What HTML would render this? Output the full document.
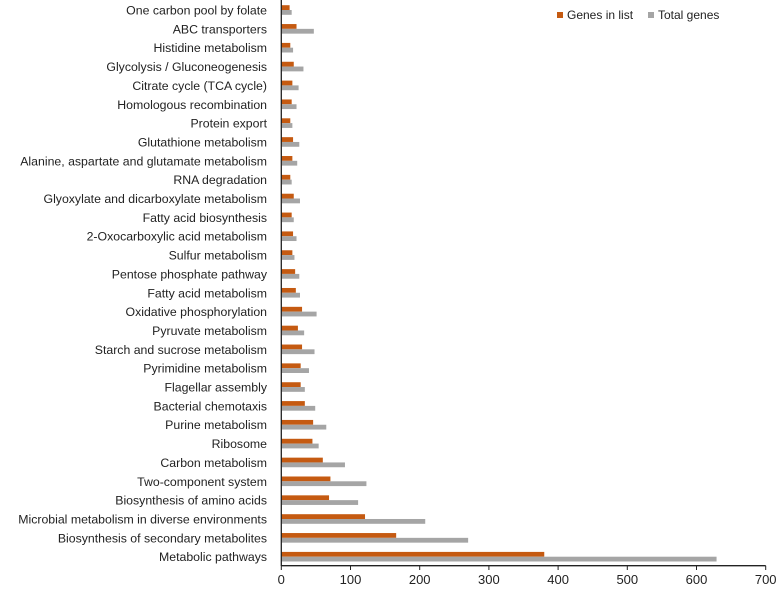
<!DOCTYPE html>
<html><head><meta charset="utf-8"><style>
body{margin:0;background:#fff}
svg{display:block;font-family:"Liberation Sans",sans-serif}
</style></head><body>
<svg id="chart" width="777" height="590" viewBox="0 0 777 590" xmlns="http://www.w3.org/2000/svg"></svg>
<script>
const categories=["One carbon pool by folate","ABC transporters","Histidine metabolism","Glycolysis / Gluconeogenesis","Citrate cycle (TCA cycle)","Homologous recombination","Protein export","Glutathione metabolism","Alanine, aspartate and glutamate metabolism","RNA degradation","Glyoxylate and dicarboxylate metabolism","Fatty acid biosynthesis","2-Oxocarboxylic acid metabolism","Sulfur metabolism","Pentose phosphate pathway","Fatty acid metabolism","Oxidative phosphorylation","Pyruvate metabolism","Starch and sucrose metabolism","Pyrimidine metabolism","Flagellar assembly","Bacterial chemotaxis","Purine metabolism","Ribosome","Carbon metabolism","Two-component system","Biosynthesis of amino acids","Microbial metabolism in diverse environments","Biosynthesis of secondary metabolites","Metabolic pathways"];
const genesInList=[12,22,13,18,16,15,13,17,16,13,18,15,17,16,20,21,30,24,30,28,28,34,46,45,60,71,69,121,166,380];
const totalGenes=[15,47,17,32,25,22,16,26,23,15,27,18,22,19,26,27,51,33,48,40,34,49,65,54,92,123,111,208,270,629];
const xTicks=[0,100,200,300,400,500,600,700];
const NS="http://www.w3.org/2000/svg";
const svg=document.getElementById('chart');
const x0=281.3,x1=765.7,xmax=700;
const xs=v=>x0+(v/xmax)*(x1-x0);
const yTop=10,yBot=556.7;
const n=categories.length;
const yc=i=>yTop+i*(yBot-yTop)/(n-1);
const bh=4.8;
function mk(t,a){const e=document.createElementNS(NS,t);for(const k in a)e.setAttribute(k,a[k]);svg.appendChild(e);return e;}
categories.forEach((c,i)=>{
  const y=yc(i);
  const t=mk('text',{x:267,y:y+4.5,'text-anchor':'end','font-size':'12.3',fill:'#222'});
  t.textContent=c;
  
  
  const r1=mk('rect',{x:x0,y:y-bh,width:xs(genesInList[i])-x0,height:bh,fill:'#C55A11'});
  
  
  const r2=mk('rect',{x:x0,y:y,width:xs(totalGenes[i])-x0,height:bh,fill:'#A5A5A5'});
  
  
});
const ya=mk('line',{x1:x0,y1:0,x2:x0,y2:566,stroke:'#222','stroke-width':1.3});


const xa=mk('line',{x1:x0,y1:565.7,x2:x1,y2:565.7,stroke:'#222','stroke-width':1.3});


xTicks.forEach(v=>{
  const tk=mk('line',{x1:xs(v),y1:565.7,x2:xs(v),y2:570,stroke:'#222','stroke-width':1});
  
  
  const tl=mk('text',{x:xs(v),y:584,'text-anchor':'middle','font-size':'13',fill:'#222'});
  tl.textContent=v;
  
  
});
const l1=mk('rect',{x:557,y:12,width:6,height:6,fill:'#C55A11'});


const lt1=mk('text',{x:567,y:19,'font-size':'12','fill':'#222'});lt1.textContent='Genes in list';


const l2=mk('rect',{x:648,y:12,width:6,height:6,fill:'#A5A5A5'});


const lt2=mk('text',{x:658,y:19,'font-size':'12','fill':'#222'});lt2.textContent='Total genes';


</script>
</body></html>
